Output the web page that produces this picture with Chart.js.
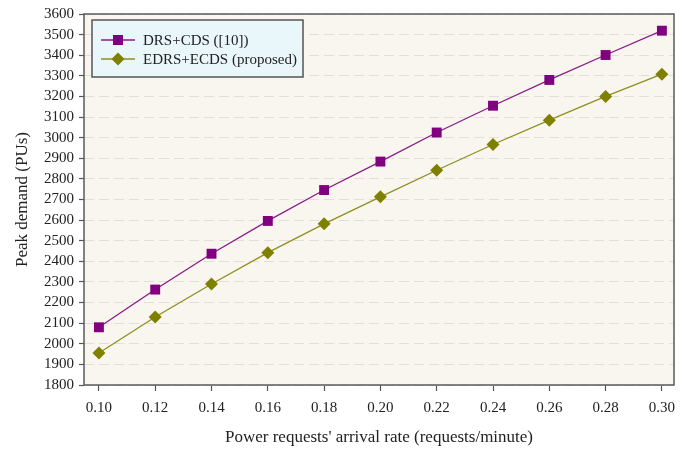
<!DOCTYPE html>
<html>
<head>
<meta charset="utf-8">
<title>Peak demand</title>
<script src="https://cdn.jsdelivr.net/npm/chart.js@4.4.1/dist/chart.umd.min.js"></script>
<style>
  html, body { margin: 0; padding: 0; background: #fff; }
  #wrap { width: 699px; height: 455px; }
</style>
</head>
<body>
<div id="wrap"><canvas id="peakChart" width="699" height="455"></canvas></div>
<script>
// data
var arrivalRates = [0.10, 0.12, 0.14, 0.16, 0.18, 0.20, 0.22, 0.24, 0.26, 0.28, 0.30];
var drsCdsDemand = [2080, 2263, 2437, 2596, 2746, 2884, 3025, 3155, 3280, 3401, 3519];
var edrsEcdsDemand = [1955, 2130, 2290, 2442, 2582, 2713, 2842, 2967, 3085, 3200, 3308];
var demandTicks = [1800, 1900, 2000, 2100, 2200, 2300, 2400, 2500, 2600, 2700, 2800, 2900, 3000, 3100, 3200, 3300, 3400, 3500, 3600];
var seriesNames = ['DRS+CDS ([10])', 'EDRS+ECDS (proposed)'];

var SERIF = '"Liberation Serif", "DejaVu Serif", serif';

function toPoints(values) {
  return values.map(function (v, i) { return { x: arrivalRates[i], y: v }; });
}

function drawMarker(ctx, style, x, y, color) {
  ctx.fillStyle = color;
  ctx.beginPath();
  if (style === 'rect') {
    ctx.rect(x - 5, y - 5, 10, 10);
  } else {
    ctx.moveTo(x, y - 6.5);
    ctx.lineTo(x + 6.5, y);
    ctx.lineTo(x, y + 6.5);
    ctx.lineTo(x - 6.5, y);
    ctx.closePath();
  }
  ctx.fill();
}

// cream plot background, frame and the boxed legend inside the plot
var plotFrame = {
  id: 'plotFrame',
  beforeDraw: function (chart) {
    var a = chart.chartArea, ctx = chart.ctx;
    ctx.save();
    ctx.fillStyle = '#f9f6ef';
    ctx.fillRect(a.left, a.top, a.right - a.left, a.bottom - a.top);
    ctx.restore();
  },
  afterDraw: function (chart) {
    var a = chart.chartArea, ctx = chart.ctx;
    ctx.save();
    ctx.strokeStyle = '#5a5a5a';
    ctx.lineWidth = 1.5;
    ctx.strokeRect(a.left, a.top, a.right - a.left, a.bottom - a.top);

    var bx = 92, by = 20, bw = 211, bh = 57;
    ctx.fillStyle = '#e9f7fb';
    ctx.fillRect(bx, by, bw, bh);
    ctx.strokeStyle = '#555';
    ctx.lineWidth = 1.5;
    ctx.strokeRect(bx, by, bw, bh);

    ctx.font = '15px ' + SERIF;
    ctx.textBaseline = 'middle';
    chart.data.datasets.forEach(function (ds, i) {
      var y = 40 + i * 19;
      ctx.strokeStyle = ds.borderColor;
      ctx.lineWidth = 1.3;
      ctx.beginPath();
      ctx.moveTo(101, y);
      ctx.lineTo(135, y);
      ctx.stroke();
      drawMarker(ctx, ds.pointStyle, 118, y, ds.pointBackgroundColor);
      ctx.fillStyle = '#222';
      ctx.fillText(ds.label, 143, y + 1);
    });
    ctx.restore();
  }
};

new Chart(document.getElementById('peakChart'), {
  type: 'line',
  data: {
    datasets: [{
      label: seriesNames[0],
      data: toPoints(drsCdsDemand),
      borderColor: '#8a1a8a',
      borderWidth: 1.3,
      pointStyle: 'rect',
      pointRadius: 7,
      pointBackgroundColor: '#800080',
      pointBorderColor: '#800080',
      pointBorderWidth: 0,
      tension: 0
    }, {
      label: seriesNames[1],
      data: toPoints(edrsEcdsDemand),
      borderColor: '#8f8f20',
      borderWidth: 1.3,
      pointStyle: 'rectRot',
      pointRadius: 6.5,
      pointBackgroundColor: '#808000',
      pointBorderColor: '#808000',
      pointBorderWidth: 0,
      tension: 0
    }]
  },
  options: {
    responsive: false,
    animation: false,
    layout: { padding: { left: 0, top: 12, right: 25, bottom: 0 } },
    plugins: { legend: { display: false }, tooltip: { enabled: false } },
    scales: {
      x: {
        type: 'linear',
        min: 0.0947,
        max: 0.3043,
        afterBuildTicks: function (s) { s.ticks = arrivalRates.map(function (v) { return { value: v }; }); },
        afterFit: function (s) { s.height = 70; },
        border: { display: false },
        grid: { drawOnChartArea: false, tickLength: 6, tickColor: '#555', tickWidth: 1.2 },
        ticks: {
          color: '#222', padding: 8, maxRotation: 0, autoSkip: false,
          font: { family: SERIF, size: 15 },
          callback: function (v) { return v.toFixed(2); }
        },
        title: {
          display: true, text: "Power requests' arrival rate (requests/minute)",
          color: '#222', font: { family: SERIF, size: 17 }, padding: { bottom: 7 }
        }
      },
      y: {
        min: 1800,
        max: 3600,
        afterBuildTicks: function (s) { s.ticks = demandTicks.map(function (v) { return { value: v }; }); },
        afterFit: function (s) { s.width = 84; },
        border: { display: false, dash: [10, 5] },
        grid: { color: '#e2dfd8', lineWidth: 1, tickLength: 5, tickColor: '#555', tickWidth: 1.2, tickBorderDash: [] },
        ticks: {
          color: '#222', padding: 5, autoSkip: false,
          font: { family: SERIF, size: 15 },
          callback: function (v) { return String(v); }
        },
        title: {
          display: true, text: 'Peak demand (PUs)',
          color: '#222', font: { family: SERIF, size: 17 }, padding: { top: 12 }
        }
      }
    }
  },
  plugins: [plotFrame]
});
</script>
</body>
</html>
